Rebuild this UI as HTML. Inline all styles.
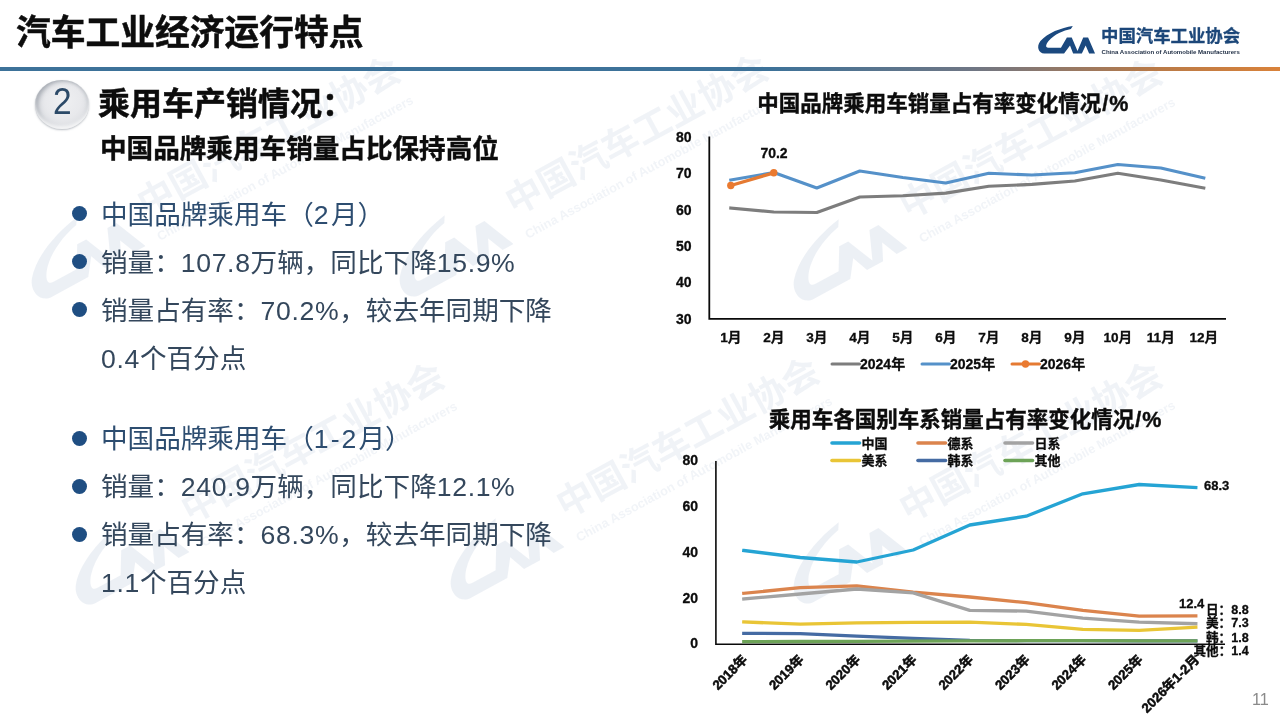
<!DOCTYPE html>
<html lang="zh-CN">
<head>
<meta charset="utf-8">
<title>汽车工业经济运行特点</title>
<style>
html,body{margin:0;padding:0;background:#fff;}
body{width:1280px;height:719px;overflow:hidden;position:relative;
  font-family:"Liberation Sans","Noto Sans CJK SC",sans-serif;color:#111;}
.abs{position:absolute;white-space:nowrap;}
#title{left:16px;top:10.4px;font-size:34.75px;font-weight:bold;line-height:46px;color:#0d0d0d;-webkit-text-stroke:.5px #0d0d0d;}
#rule{left:0;top:67px;width:1280px;height:4px;
  background:linear-gradient(to right,#3d7299 0%,#3d7299 60%,#6f7684 76%,#b87a48 90%,#d9823a 100%);}
#badge{left:34.7px;top:79.6px;width:54.7px;height:49.4px;border-radius:50%;
  background:radial-gradient(ellipse at 52% 42%,#eff0f2 0%,#e8e9ec 45%,#dcdee2 70%,#cdd0d5 88%,#bfc3c9 100%);
  box-shadow:inset 0 -3px 3px rgba(255,255,255,.8),inset 3px 1px 4px rgba(110,118,130,.5),inset -2px 0 3px rgba(140,146,156,.25),0 1px 2px rgba(120,128,140,.5);}
#badgenum{left:34.7px;top:79.6px;width:54.7px;height:49.4px;line-height:44.6px;text-align:center;
  font-size:36px;color:#2c4a68;transform:scaleX(.93);}
#h1{left:98px;top:82.3px;font-size:32px;font-weight:bold;line-height:44px;color:#0c0c0c;-webkit-text-stroke:.45px #0c0c0c;}
#h2{left:100px;top:129.5px;font-size:26.6px;font-weight:bold;line-height:38px;color:#0c0c0c;-webkit-text-stroke:.4px #0c0c0c;}
.li{left:101px;font-size:26.6px;line-height:40px;color:#34475c;font-weight:400;}
.li.hd{color:#2d4d70;}
.li i{font-style:normal;letter-spacing:.65px;}
.dot{position:absolute;left:72px;width:15px;height:15px;border-radius:50%;background:#1f4e82;}
#pg{left:1252px;top:688.6px;font-size:16.3px;color:#8a8a8a;line-height:20px;font-weight:300;}
#logotxt{left:1101px;top:23.3px;font-size:17.4px;font-weight:bold;color:#1c4779;line-height:26px;-webkit-text-stroke:.3px #1c4779;}
#logoen{left:1101.5px;top:47.5px;font-size:6.07px;font-weight:bold;color:#1c2b42;line-height:8px;letter-spacing:0;}
svg{position:absolute;left:0;top:0;}
svg text{font-family:"Liberation Sans","Noto Sans CJK SC",sans-serif;font-weight:bold;fill:#0c0c0c;stroke:#0c0c0c;stroke-width:.3px;}
svg text.tt{stroke-width:.4px;}
svg text.xl{stroke-width:.5px;}
.wm{position:absolute;transform-origin:0 0;transform:rotate(-28.5deg);white-space:nowrap;color:#6583ad;opacity:.115;}
.wm .cn{opacity:.8;position:absolute;left:0;top:-38px;font-size:36.6px;font-weight:bold;line-height:40px;}
.wm .en{opacity:.75;position:absolute;left:1px;top:8.5px;font-size:12.7px;font-weight:bold;line-height:16px;}
.wm svg{left:-134px;top:-39.7px;}
</style>
</head>
<body>
<div class="wm" style="left:149.1px;top:223.2px"><svg width="120" height="59.3" viewBox="115 155 820 405"><path d="M615,158 C450,185 250,255 150,375 C85,455 125,555 205,555 L490,555 L575,440 L620,555 L745,555 L800,440 L850,555 L935,555 L835,322 L765,322 L683,516 L600,322 L530,322 L445,470 L262,470 C215,470 228,420 270,370 C350,280 480,225 588,203 Z" fill="#6583ad"/></svg><div class="cn">中国汽车工业协会</div><div class="en">China Association of Automobile Manufacturers</div></div>
<div class="wm" style="left:517.0px;top:221.0px"><svg width="120" height="59.3" viewBox="115 155 820 405"><path d="M615,158 C450,185 250,255 150,375 C85,455 125,555 205,555 L490,555 L575,440 L620,555 L745,555 L800,440 L850,555 L935,555 L835,322 L765,322 L683,516 L600,322 L530,322 L445,470 L262,470 C215,470 228,420 270,370 C350,280 480,225 588,203 Z" fill="#6583ad"/></svg><div class="cn">中国汽车工业协会</div><div class="en">China Association of Automobile Manufacturers</div></div>
<div class="wm" style="left:911.0px;top:225.3px"><svg width="120" height="59.3" viewBox="115 155 820 405"><path d="M615,158 C450,185 250,255 150,375 C85,455 125,555 205,555 L490,555 L575,440 L620,555 L745,555 L800,440 L850,555 L935,555 L835,322 L765,322 L683,516 L600,322 L530,322 L445,470 L262,470 C215,470 228,420 270,370 C350,280 480,225 588,203 Z" fill="#6583ad"/></svg><div class="cn">中国汽车工业协会</div><div class="en">China Association of Automobile Manufacturers</div></div>
<div class="wm" style="left:192.6px;top:529.0px"><svg width="120" height="59.3" viewBox="115 155 820 405"><path d="M615,158 C450,185 250,255 150,375 C85,455 125,555 205,555 L490,555 L575,440 L620,555 L745,555 L800,440 L850,555 L935,555 L835,322 L765,322 L683,516 L600,322 L530,322 L445,470 L262,470 C215,470 228,420 270,370 C350,280 480,225 588,203 Z" fill="#6583ad"/></svg><div class="cn">中国汽车工业协会</div><div class="en">China Association of Automobile Manufacturers</div></div>
<div class="wm" style="left:568.0px;top:524.4px"><svg width="120" height="59.3" viewBox="115 155 820 405"><path d="M615,158 C450,185 250,255 150,375 C85,455 125,555 205,555 L490,555 L575,440 L620,555 L745,555 L800,440 L850,555 L935,555 L835,322 L765,322 L683,516 L600,322 L530,322 L445,470 L262,470 C215,470 228,420 270,370 C350,280 480,225 588,203 Z" fill="#6583ad"/></svg><div class="cn">中国汽车工业协会</div><div class="en">China Association of Automobile Manufacturers</div></div>
<div class="wm" style="left:911.1px;top:527.8px"><svg width="120" height="59.3" viewBox="115 155 820 405"><path d="M615,158 C450,185 250,255 150,375 C85,455 125,555 205,555 L490,555 L575,440 L620,555 L745,555 L800,440 L850,555 L935,555 L835,322 L765,322 L683,516 L600,322 L530,322 L445,470 L262,470 C215,470 228,420 270,370 C350,280 480,225 588,203 Z" fill="#6583ad"/></svg><div class="cn">中国汽车工业协会</div><div class="en">China Association of Automobile Manufacturers</div></div>
<div id="title" class="abs">汽车工业经济运行特点</div>
<div id="rule" class="abs"></div>
<div id="badge" class="abs"></div>
<div id="badgenum" class="abs">2</div>
<div id="h1" class="abs">乘用车产销情况：</div>
<div id="h2" class="abs">中国品牌乘用车销量占比保持高位</div>

<span class="dot" style="top:206.3px"></span>
<div class="abs li hd" style="top:194.8px">中国品牌乘用车（<i style="letter-spacing:2.4px">2</i>月）</div>
<span class="dot" style="top:254.3px"></span>
<div class="abs li" style="top:242.8px">销量：<i>107.8</i>万辆，同比下降<i>15.9%</i></div>
<span class="dot" style="top:302.3px"></span>
<div class="abs li" style="top:290.8px">销量占有率：<i>70.2%</i>，较去年同期下降</div>
<div class="abs li" style="top:338.8px"><i>0.4</i>个百分点</div>

<span class="dot" style="top:430.8px"></span>
<div class="abs li hd" style="top:419.3px">中国品牌乘用车（<i style="letter-spacing:2.1px">1-2</i>月）</div>
<span class="dot" style="top:478.8px"></span>
<div class="abs li" style="top:467.3px">销量：<i>240.9</i>万辆，同比下降<i>12.1%</i></div>
<span class="dot" style="top:526.8px"></span>
<div class="abs li" style="top:515.3px">销量占有率：<i>68.3%</i>，较去年同期下降</div>
<div class="abs li" style="top:563.3px"><i>1.1</i>个百分点</div>

<div id="logotxt" class="abs">中国汽车工业协会</div>
<div id="logoen" class="abs">China Association of Automobile Manufacturers</div>
<div id="pg" class="abs">11</div>

<svg width="1280" height="719" viewBox="0 0 1280 719">
<g transform="translate(1030,15) scale(0.06957)"><path d="M615,158 C450,185 250,255 150,375 C85,455 125,555 205,555 L490,555 L575,440 L620,555 L745,555 L800,440 L850,555 L935,555 L835,322 L765,322 L683,516 L600,322 L530,322 L445,470 L262,470 C215,470 228,420 270,370 C350,280 480,225 588,203 Z" fill="#1b497f"/></g>
<text class="tt" x="757.2" y="111.2" font-size="21.5">中国品牌乘用车销量占有率变化情况<tspan dx="1" letter-spacing="1">/%</tspan></text>
<path d="M709.3,136.5 V318.8 H1226" fill="none" stroke="#0a0a0a" stroke-width="1.8" stroke-linejoin="miter"/>
<text x="691.5" y="142.0" font-size="14" text-anchor="end">80</text>
<text x="691.5" y="178.3" font-size="14" text-anchor="end">70</text>
<text x="691.5" y="214.6" font-size="14" text-anchor="end">60</text>
<text x="691.5" y="250.9" font-size="14" text-anchor="end">50</text>
<text x="691.5" y="287.2" font-size="14" text-anchor="end">40</text>
<text x="691.5" y="323.5" font-size="14" text-anchor="end">30</text>
<text x="730.8" y="341.9" font-size="13.6" text-anchor="middle">1月</text>
<text x="773.8" y="341.9" font-size="13.6" text-anchor="middle">2月</text>
<text x="816.8" y="341.9" font-size="13.6" text-anchor="middle">3月</text>
<text x="859.8" y="341.9" font-size="13.6" text-anchor="middle">4月</text>
<text x="902.8" y="341.9" font-size="13.6" text-anchor="middle">5月</text>
<text x="945.8" y="341.9" font-size="13.6" text-anchor="middle">6月</text>
<text x="988.8" y="341.9" font-size="13.6" text-anchor="middle">7月</text>
<text x="1031.8" y="341.9" font-size="13.6" text-anchor="middle">8月</text>
<text x="1074.8" y="341.9" font-size="13.6" text-anchor="middle">9月</text>
<text x="1117.8" y="341.9" font-size="13.6" text-anchor="middle">10月</text>
<text x="1160.8" y="341.9" font-size="13.6" text-anchor="middle">11月</text>
<text x="1203.8" y="341.9" font-size="13.6" text-anchor="middle">12月</text>
<polyline points="730.8,208.0 773.8,212.0 816.8,212.5 859.8,197.0 902.8,195.7 945.8,193.1 988.8,186.3 1031.8,184.4 1074.8,181.0 1117.8,173.2 1160.8,180.0 1203.8,188.0" fill="none" stroke="#7d7d7d" stroke-width="3.1" stroke-linejoin="round" stroke-linecap="square"/>
<polyline points="730.8,180.0 773.8,172.5 816.8,188.0 859.8,171.0 902.8,177.5 945.8,183.0 988.8,173.3 1031.8,175.0 1074.8,172.7 1117.8,164.5 1160.8,168.0 1203.8,178.0" fill="none" stroke="#5591c9" stroke-width="3.1" stroke-linejoin="round" stroke-linecap="square"/>
<polyline points="730.8,185.5 773.8,172.8" fill="none" stroke="#e57a32" stroke-width="3.3" stroke-linejoin="round" stroke-linecap="round"/>
<circle cx="730.8" cy="185.5" r="3.7" fill="#ea7a30"/>
<circle cx="773.8" cy="172.8" r="3.7" fill="#ea7a30"/>
<text x="774" y="158" font-size="14" text-anchor="middle">70.2</text>
<line x1="832" y1="364" x2="859.5" y2="364" stroke="#7d7d7d" stroke-width="3" stroke-linecap="round"/>
<text x="860" y="369" font-size="14">2024年</text>
<line x1="922" y1="364" x2="949.5" y2="364" stroke="#5591c9" stroke-width="3" stroke-linecap="round"/>
<text x="950" y="369" font-size="14">2025年</text>
<line x1="1012" y1="364" x2="1039.5" y2="364" stroke="#e57a32" stroke-width="3" stroke-linecap="round"/>
<circle cx="1025.5" cy="364" r="3.7" fill="#ea7a30"/>
<text x="1040" y="369" font-size="14">2026年</text>
<text class="tt" x="768.8" y="427.3" font-size="21.5">乘用车各国别车系销量占有率变化情况<tspan dx="1" letter-spacing="1">/%</tspan></text>
<path d="M715.9,461 V644.3 H1225" fill="none" stroke="#0a0a0a" stroke-width="1.6"/>
<text x="698" y="465.2" font-size="14" text-anchor="end">80</text>
<text x="698" y="510.9" font-size="14" text-anchor="end">60</text>
<text x="698" y="556.7" font-size="14" text-anchor="end">40</text>
<text x="698" y="602.5" font-size="14" text-anchor="end">20</text>
<text x="698" y="648.2" font-size="14" text-anchor="end">0</text>
<polyline points="743.8,550.5 800.2,557.5 856.8,562.0 913.2,550.0 969.8,525.0 1026.2,516.2 1082.8,493.8 1139.2,484.5 1195.8,487.5" fill="none" stroke="#25a4d4" stroke-width="3.3" stroke-linejoin="round" stroke-linecap="square"/>
<polyline points="743.8,593.3 800.2,587.7 856.8,585.8 913.2,592.1 969.8,597.0 1026.2,602.7 1082.8,610.4 1139.2,616.2 1195.8,615.8" fill="none" stroke="#db844d" stroke-width="3.3" stroke-linejoin="round" stroke-linecap="square"/>
<polyline points="743.8,598.9 800.2,594.0 856.8,589.0 913.2,592.8 969.8,610.4 1026.2,611.1 1082.8,618.1 1139.2,622.1 1195.8,623.7" fill="none" stroke="#a3a3a3" stroke-width="3.3" stroke-linejoin="round" stroke-linecap="square"/>
<polyline points="743.8,621.9 800.2,624.2 856.8,622.8 913.2,622.3 969.8,622.1 1026.2,624.4 1082.8,629.4 1139.2,630.3 1195.8,627.3" fill="none" stroke="#e9c536" stroke-width="3.3" stroke-linejoin="round" stroke-linecap="square"/>
<polyline points="743.8,633.4 800.2,633.6 856.8,636.2 913.2,638.3 969.8,640.4 1026.2,640.7 1082.8,640.7 1139.2,640.8 1195.8,640.8" fill="none" stroke="#456ba3" stroke-width="3.3" stroke-linejoin="round" stroke-linecap="square"/>
<polyline points="743.8,641.6 800.2,641.5 856.8,641.3 913.2,641.2 969.8,640.9 1026.2,640.7 1082.8,640.7 1139.2,640.8 1195.8,640.8" fill="none" stroke="#6da357" stroke-width="3.3" stroke-linejoin="round" stroke-linecap="square"/>
<line x1="832" y1="443" x2="859.5" y2="443" stroke="#25a4d4" stroke-width="3.6" stroke-linecap="round"/>
<text x="861.5" y="447.8" font-size="13">中国</text>
<line x1="918" y1="443" x2="945.5" y2="443" stroke="#db844d" stroke-width="3.6" stroke-linecap="round"/>
<text x="947.5" y="447.8" font-size="13">德系</text>
<line x1="1005" y1="443" x2="1032.5" y2="443" stroke="#a3a3a3" stroke-width="3.6" stroke-linecap="round"/>
<text x="1034.5" y="447.8" font-size="13">日系</text>
<line x1="832" y1="460.5" x2="859.5" y2="460.5" stroke="#e9c536" stroke-width="3.6" stroke-linecap="round"/>
<text x="861.5" y="465.3" font-size="13">美系</text>
<line x1="918" y1="460.5" x2="945.5" y2="460.5" stroke="#456ba3" stroke-width="3.6" stroke-linecap="round"/>
<text x="947.5" y="465.3" font-size="13">韩系</text>
<line x1="1005" y1="460.5" x2="1032.5" y2="460.5" stroke="#6da357" stroke-width="3.6" stroke-linecap="round"/>
<text x="1034.5" y="465.3" font-size="13">其他</text>
<text transform="translate(748.0,660.5) rotate(-45)" class="xl" font-size="13.2" text-anchor="end">2018年</text>
<text transform="translate(804.5,660.5) rotate(-45)" class="xl" font-size="13.2" text-anchor="end">2019年</text>
<text transform="translate(861.0,660.5) rotate(-45)" class="xl" font-size="13.2" text-anchor="end">2020年</text>
<text transform="translate(917.5,660.5) rotate(-45)" class="xl" font-size="13.2" text-anchor="end">2021年</text>
<text transform="translate(974.0,660.5) rotate(-45)" class="xl" font-size="13.2" text-anchor="end">2022年</text>
<text transform="translate(1030.5,660.5) rotate(-45)" class="xl" font-size="13.2" text-anchor="end">2023年</text>
<text transform="translate(1087.0,660.5) rotate(-45)" class="xl" font-size="13.2" text-anchor="end">2024年</text>
<text transform="translate(1143.5,660.5) rotate(-45)" class="xl" font-size="13.2" text-anchor="end">2025年</text>
<text transform="translate(1200.0,660.5) rotate(-45)" class="xl" font-size="13.2" text-anchor="end">2026年1-2月</text>
<text x="1204" y="489.5" font-size="13">68.3</text>
<text x="1179" y="607.5" font-size="13">12.4</text>
<text x="1206" y="614.3" font-size="12.6">日：8.8</text>
<text x="1206" y="627" font-size="12.6">美：7.3</text>
<text x="1206" y="641.5" font-size="12.6">韩：1.8</text>
<text x="1193.5" y="654.8" font-size="12.6">其他：1.4</text>
</svg>
</body>
</html>
